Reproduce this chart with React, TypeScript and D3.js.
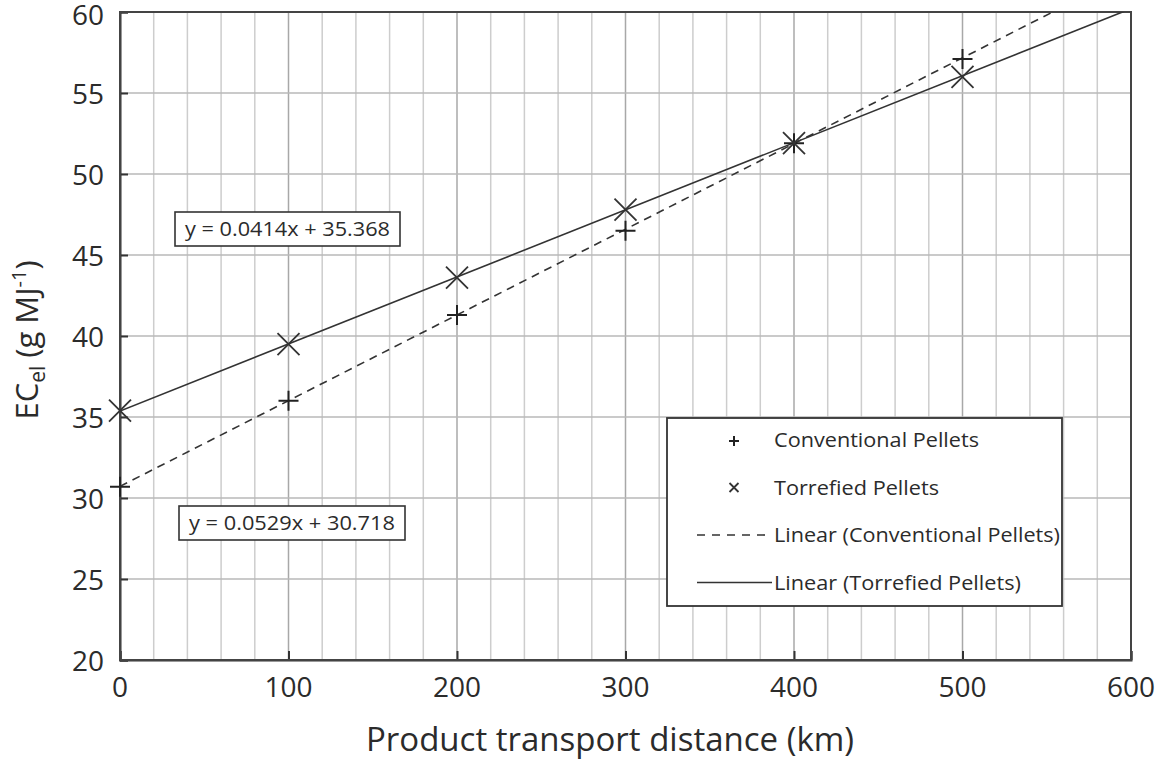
import { useEffect, useRef } from "react";
import * as d3 from "d3";

const distances = [0, 100, 200, 300, 400, 500];
const conventional = [30.7, 36.0, 41.3, 46.5, 51.9, 57.1];
const torrefied = [35.4, 39.5, 43.6, 47.8, 51.9, 56.0];

// trendline coefficients as printed on the chart
const convFit = { slope: 0.0529, intercept: 30.718, label: "y = 0.0529x + 30.718" };
const torrFit = { slope: 0.0414, intercept: 35.368, label: "y = 0.0414x + 35.368" };

const xTicks = [0, 100, 200, 300, 400, 500, 600];
const yTicks = [20, 25, 30, 35, 40, 45, 50, 55, 60];

const legendItems = [
  { label: "Conventional Pellets", kind: "plus", width: 205 },
  { label: "Torrefied Pellets", kind: "cross", width: 165 },
  { label: "Linear (Conventional Pellets)", kind: "dash", width: 286 },
  { label: "Linear (Torrefied Pellets)", kind: "solid", width: 247 },
];

const W = 1158;
const H = 761;
const margin = { top: 12, right: 27, bottom: 101, left: 120 };
const FONT = "'Open Sans', Lato, sans-serif";
const INK = "#2b2b2b";

const App = () => {
  const svgRef = useRef<SVGSVGElement>(null);

  useEffect(() => {
    const svg = d3.select(svgRef.current);
    svg.selectAll("*").remove();

    const x = d3.scaleLinear().domain([0, 600]).range([margin.left, W - margin.right]);
    const y = d3.scaleLinear().domain([20, 60]).range([H - margin.bottom, margin.top]);

    svg.append("rect").attr("width", W).attr("height", H).attr("fill", "#fff");

    svg.append("defs").append("clipPath").attr("id", "plot")
      .append("rect")
      .attr("x", x(0)).attr("y", y(60))
      .attr("width", x(600) - x(0)).attr("height", y(20) - y(60));

    // grid
    const grid = svg.append("g");
    grid.selectAll("line.v")
      .data(d3.range(20, 600, 20))
      .join("line")
      .attr("x1", d => x(d)).attr("x2", d => x(d))
      .attr("y1", y(60)).attr("y2", y(20))
      .attr("stroke", d => d % 100 === 0 ? "#a8a8a8" : "#cdcdcd")
      .attr("stroke-width", 1.5);
    grid.selectAll("line.h")
      .data(yTicks.slice(1, -1))
      .join("line")
      .attr("x1", x(0)).attr("x2", x(600))
      .attr("y1", d => y(d)).attr("y2", d => y(d))
      .attr("stroke", "#b8b8b8")
      .attr("stroke-width", 1.5);

    // axes
    const yAxis = svg.append("g")
      .attr("transform", `translate(${x(0)},0)`)
      .call(d3.axisRight(y).tickValues(yTicks).tickSize(8).tickFormat(() => ""));
    const xAxis = svg.append("g")
      .attr("transform", `translate(0,${y(20)})`)
      .call(d3.axisTop(x).tickValues(xTicks).tickSize(9).tickFormat(() => ""));
    [yAxis, xAxis].forEach(g => {
      g.selectAll("path").attr("stroke", "#333").attr("stroke-width", 2);
      g.selectAll("line").attr("stroke", "#333").attr("stroke-width", 2);
    });
    svg.append("rect")
      .attr("x", x(0)).attr("y", y(60))
      .attr("width", x(600) - x(0)).attr("height", y(20) - y(60))
      .attr("fill", "none").attr("stroke", "#444").attr("stroke-width", 2);

    svg.append("g").selectAll("text")
      .data(yTicks)
      .join("text")
      .attr("x", x(0) - 16).attr("y", d => y(d) + (d === 60 ? 3 : 1))
      .attr("dy", "0.36em")
      .attr("text-anchor", "end")
      .attr("font-family", FONT).attr("font-size", 28).attr("fill", INK)
      .text(d => d);
    svg.append("g").selectAll("text")
      .data(xTicks)
      .join("text")
      .attr("x", d => x(d)).attr("y", y(20) + 37)
      .attr("text-anchor", "middle")
      .attr("font-family", FONT).attr("font-size", 28).attr("fill", INK)
      .text(d => d);

    svg.append("text")
      .attr("x", 610).attr("y", 751)
      .attr("text-anchor", "middle")
      .attr("font-family", FONT).attr("font-size", 33).attr("fill", INK)
      .text("Product transport distance (km)");

    const yt = svg.append("text")
      .attr("transform", `translate(38,340) rotate(-90)`)
      .attr("text-anchor", "middle")
      .attr("font-family", FONT).attr("font-size", 31).attr("fill", INK);
    yt.append("tspan").text("EC");
    yt.append("tspan").attr("font-size", 21).attr("dy", 7).text("el");
    yt.append("tspan").attr("dy", -7).text(" (g MJ");
    yt.append("tspan").attr("font-size", 20).attr("dy", -12).text("-1");
    yt.append("tspan").attr("dy", 12).text(")");

    // trendlines
    const line = d3.line<number>().x(d => x(d)).y(d => y(d));
    const plot = svg.append("g").attr("clip-path", "url(#plot)");
    const fitLine = (fit: { slope: number; intercept: number }) =>
      line.y(d => y(fit.intercept + fit.slope * d))([0, 600]);
    plot.append("path")
      .attr("d", fitLine(convFit))
      .attr("fill", "none").attr("stroke", "#333").attr("stroke-width", 1.6)
      .attr("stroke-dasharray", "8,6");
    plot.append("path")
      .attr("d", fitLine(torrFit))
      .attr("fill", "none").attr("stroke", "#333").attr("stroke-width", 1.6);

    // markers
    const plus = (g: any, cx: number, cy: number, s: number) => {
      g.append("path")
        .attr("d", `M${cx - s},${cy}H${cx + s}M${cx},${cy - s}V${cy + s}`)
        .attr("stroke", "#222").attr("stroke-width", 2).attr("fill", "none");
    };
    const cross = (g: any, cx: number, cy: number, s: number) => {
      g.append("path")
        .attr("d", `M${cx - s},${cy - s}L${cx + s},${cy + s}M${cx - s},${cy + s}L${cx + s},${cy - s}`)
        .attr("stroke", "#333").attr("stroke-width", 1.8).attr("fill", "none");
    };
    const marks = svg.append("g");
    distances.forEach((d, i) => plus(marks, x(d), y(conventional[i]), 10));
    distances.forEach((d, i) => cross(marks, x(d), y(torrefied[i]), 11));

    // equation labels
    const eqBox = (bx: number, by: number, w: number, label: string) => {
      const g = svg.append("g");
      g.append("rect")
        .attr("x", bx).attr("y", by).attr("width", w).attr("height", 34)
        .attr("fill", "#fff").attr("stroke", "#333").attr("stroke-width", 1.6);
      g.append("text")
        .attr("x", bx + w / 2).attr("y", by + 17).attr("dy", "0.36em")
        .attr("text-anchor", "middle")
        .attr("textLength", w - 20).attr("lengthAdjust", "spacingAndGlyphs")
        .attr("font-family", FONT).attr("font-size", 20).attr("fill", INK)
        .text(label);
    };
    eqBox(175, 212, 225, torrFit.label);
    eqBox(179, 506, 226, convFit.label);

    // legend
    const lg = svg.append("g");
    lg.append("rect")
      .attr("x", 667).attr("y", 418).attr("width", 395).attr("height", 188)
      .attr("fill", "#fff").attr("stroke", "#333").attr("stroke-width", 1.8);
    legendItems.forEach((item, i) => {
      const cy = 440 + i * 47.5;
      if (item.kind === "plus") plus(lg, 734, cy + 1, 5);
      if (item.kind === "cross") cross(lg, 734, cy, 4.5);
      if (item.kind === "dash" || item.kind === "solid") {
        lg.append("line")
          .attr("x1", 697).attr("x2", item.kind === "dash" ? 765 : 772).attr("y1", cy).attr("y2", cy)
          .attr("stroke", "#333").attr("stroke-width", 1.6)
          .attr("stroke-dasharray", item.kind === "dash" ? "8,7" : null);
      }
      lg.append("text")
        .attr("x", 774)
        .attr("y", cy).attr("dy", "0.36em")
        .attr("textLength", item.width).attr("lengthAdjust", "spacingAndGlyphs")
        .attr("font-family", FONT).attr("font-size", 20.5).attr("fill", INK)
        .text(item.label);
    });
  }, []);

  return (
    <svg ref={svgRef} width={W} height={H}
      style={{ position: "absolute", left: 0, top: 0, display: "block" }} />
  );
};

export default App;
